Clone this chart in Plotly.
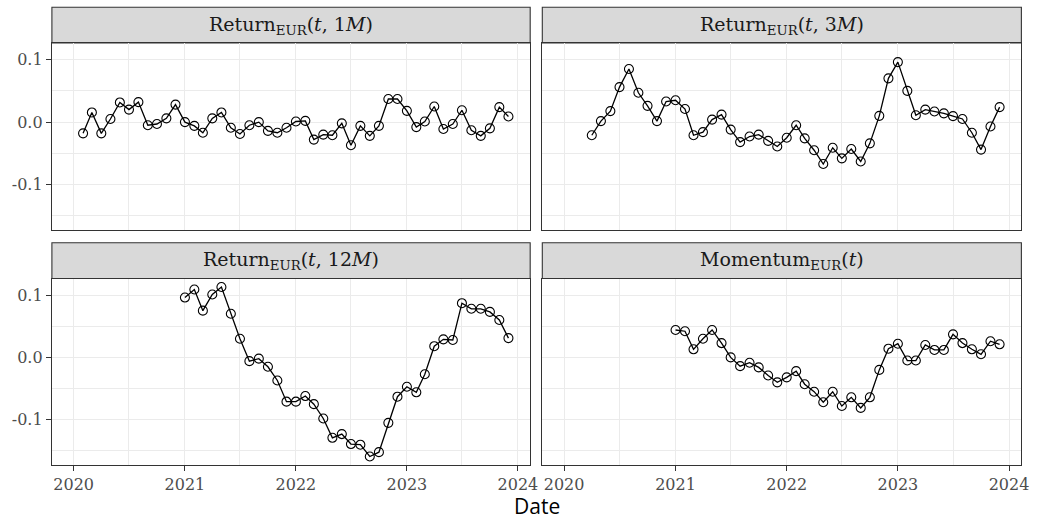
import pandas as pd
import plotly.graph_objects as go

# ---------------- data ----------------
months = pd.date_range("2020-01-01", "2023-12-01", freq="MS")

return_1m = [-0.018, 0.0155, -0.018, 0.005, 0.0315, 0.020, 0.032, -0.005, -0.003, 0.006,
             0.028, 0.000, -0.006, -0.017, 0.006, 0.0155, -0.009, -0.019, -0.005, 0.000,
             -0.014, -0.017, -0.009, 0.001, 0.002, -0.028, -0.020, -0.021, -0.002, -0.037,
             -0.006, -0.022, -0.006, 0.037, 0.037, 0.018, -0.008, 0.001, 0.025, -0.011,
             -0.003, 0.019, -0.013, -0.022, -0.010, 0.024, 0.009]

return_3m = [-0.021, 0.0016, 0.0176, 0.056, 0.085, 0.047, 0.026, 0.0016, 0.033, 0.035,
             0.021, -0.021, -0.016, 0.004, 0.012, -0.012, -0.032, -0.023, -0.020, -0.030,
             -0.039, -0.025, -0.005, -0.026, -0.045, -0.067, -0.041, -0.058, -0.043, -0.063,
             -0.034, 0.010, 0.070, 0.096, 0.050, 0.011, 0.020, 0.017, 0.014, 0.0096,
             0.005, -0.017, -0.044, -0.007, 0.024]

return_12m = [0.096, 0.109, 0.075, 0.101, 0.113, 0.070, 0.030, -0.006, -0.002, -0.015,
              -0.037, -0.071, -0.071, -0.062, -0.075, -0.098, -0.129, -0.123, -0.139, -0.140,
              -0.159, -0.152, -0.105, -0.063, -0.047, -0.056, -0.027, 0.018, 0.029, 0.028,
              0.087, 0.078, 0.078, 0.073, 0.060, 0.031]

momentum = [0.044, 0.042, 0.013, 0.030, 0.044, 0.023, 0.000, -0.014, -0.0085, -0.016,
            -0.029, -0.040, -0.032, -0.022, -0.043, -0.055, -0.072, -0.055, -0.078, -0.064,
            -0.081, -0.064, -0.020, 0.014, 0.022, -0.005, -0.005, 0.020, 0.012, 0.012,
            0.037, 0.023, 0.013, 0.005, 0.026, 0.021]

panel_titles = [
    "Return<sub>EUR</sub>(<i>t</i>, 1<i>M</i>)",
    "Return<sub>EUR</sub>(<i>t</i>, 3<i>M</i>)",
    "Return<sub>EUR</sub>(<i>t</i>, 12<i>M</i>)",
    "Momentum<sub>EUR</sub>(<i>t</i>)",
]
series = [return_1m, return_3m, return_12m, momentum]

y_tickvals = [-0.1, 0.0, 0.1]
y_ticktext = ["-0.1", "0.0", "0.1"]
x_axis_title = "Date"

# ---------------- layout helpers ----------------
W, H = 1040, 520
col_px = [(52.3, 534.3), (546.5, 1029.3)]
row_px = [(43.0, 230.0), (278.5, 465.0)]        # plot area (top, bottom) in px
strip_px = [(7.3, 43.0), (242.7, 278.5)]       # strip (top, bottom) in px

span = months[-1] - months[0]
x_range = [months[0] - 0.05 * span, months[-1] + 0.05 * span]
allv = [v for s in series for v in s]
ymin, ymax = min(allv), max(allv)
yr = ymax - ymin
y_range = [ymin - 0.05 * yr, ymax + 0.05 * yr]

GRID = "#EBEBEB"
BORDER = "#333333"
TICKFONT = dict(family="DejaVu Serif", size=16, color="#4D4D4D")

fig = go.Figure()
layout = dict(
    width=W, height=H, autosize=False,
    margin=dict(l=0, r=0, t=0, b=0),
    paper_bgcolor="white", plot_bgcolor="white",
    showlegend=False,
    shapes=[], annotations=[],
)

for i, (title, vals) in enumerate(zip(panel_titles, series)):
    r, c = divmod(i, 2)
    n = i + 1
    xa = "xaxis" if n == 1 else f"xaxis{n}"
    ya = "yaxis" if n == 1 else f"yaxis{n}"
    xref = "x" if n == 1 else f"x{n}"
    yref = "y" if n == 1 else f"y{n}"
    x0, x1 = col_px[c]
    top, bot = row_px[r]
    xd = [x0 / W, x1 / W]
    yd = [1 - bot / H, 1 - top / H]

    xs = months[len(months) - len(vals):]
    fig.add_trace(go.Scatter(
        x=xs, y=vals, xaxis=xref, yaxis=yref,
        mode="lines+markers",
        line=dict(color="black", width=1.3),
        marker=dict(symbol="circle-open", size=9, color="black", line=dict(width=1.1, color="black")),
        hoverinfo="skip",
    ))

    layout[xa] = dict(
        domain=xd, anchor=yref, range=x_range, type="date",
        tickmode="linear", tick0="2020-01-01", dtick="M12", tickformat="%Y",
        showgrid=True, gridcolor=GRID, gridwidth=1.1,
        minor=dict(tickmode="linear", tick0="2020-01-01", dtick="M6", showgrid=True,
                   gridcolor=GRID, gridwidth=0.6, ticks=""),
        showline=True, linecolor=BORDER, linewidth=1.1, mirror=True,
        zeroline=False,
        ticks="outside" if r == 1 else "", ticklen=5, tickwidth=1.1, tickcolor=BORDER,
        showticklabels=(r == 1), tickfont=TICKFONT,
    )
    layout[ya] = dict(
        domain=yd, anchor=xref, range=y_range,
        tickmode="array", tickvals=y_tickvals, ticktext=y_ticktext,
        showgrid=True, gridcolor=GRID, gridwidth=1.1,
        minor=dict(tickmode="linear", tick0=0, dtick=0.05, showgrid=True,
                   gridcolor=GRID, gridwidth=0.6, ticks=""),
        showline=True, linecolor=BORDER, linewidth=1.1, mirror=True,
        zeroline=False,
        ticks="outside" if c == 0 else "", ticklen=5, tickwidth=1.1, tickcolor=BORDER,
        showticklabels=(c == 0), tickfont=TICKFONT,
    )

    s_top, s_bot = strip_px[r]
    layout["shapes"].append(dict(
        type="rect", xref="paper", yref="paper",
        x0=x0 / W, x1=x1 / W, y0=1 - s_bot / H, y1=1 - s_top / H,
        fillcolor="#D9D9D9", line=dict(color=BORDER, width=1.1), layer="below",
    ))
    layout["annotations"].append(dict(
        text=title, xref="paper", yref="paper",
        x=(x0 + x1) / 2 / W, y=1 - (s_top + s_bot) / 2 / H,
        xanchor="center", yanchor="middle", showarrow=False,
        font=dict(family="DejaVu Serif", size=19, color="#1A1A1A"),
    ))

layout["annotations"].append(dict(
    text=x_axis_title, xref="paper", yref="paper",
    x=(col_px[0][0] + col_px[1][1]) / 2 / W, y=1 - 506 / H,
    xanchor="center", yanchor="middle", showarrow=False,
    font=dict(family="Open Sans", size=21, color="black"),
))

fig.update_layout(**layout)
fig.write_html("out.html")
